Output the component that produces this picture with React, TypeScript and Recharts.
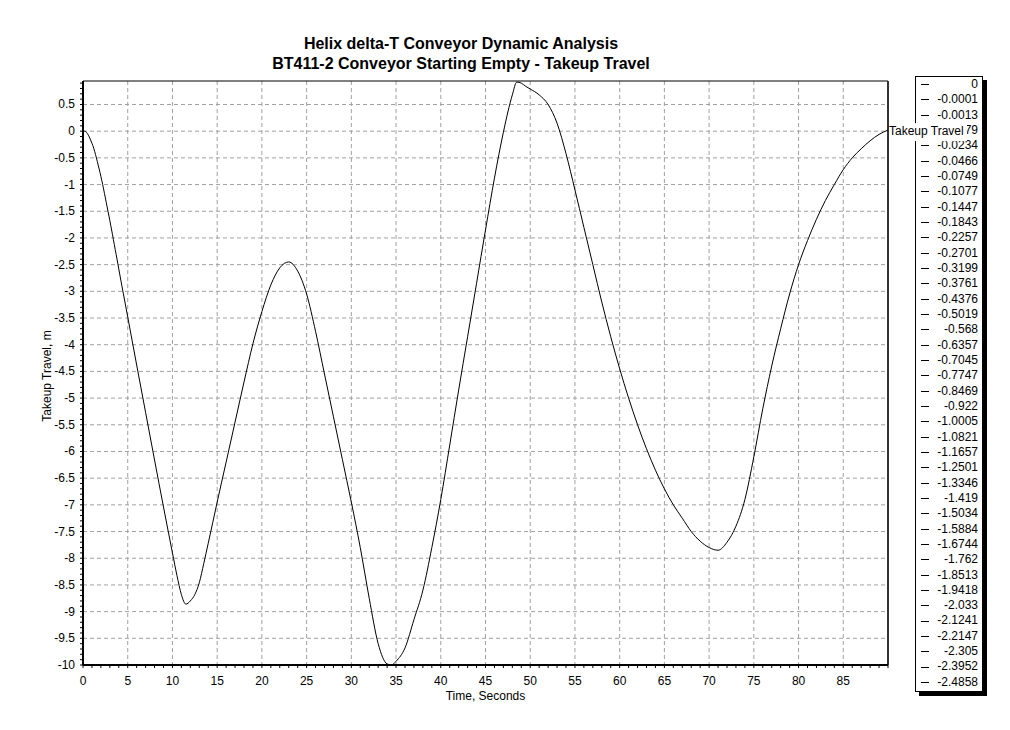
import { LineChart, Line, XAxis, YAxis, CartesianGrid, ReferenceLine, LabelList } from 'recharts'

// time in seconds; first 4 s at the 0.1 s step the legend lists
const seconds = [
  0, 0.1, 0.2, 0.3, 0.4, 0.5, 0.6, 0.7, 0.8, 0.9,
  1, 1.1, 1.2, 1.3, 1.4, 1.5, 1.6, 1.7, 1.8, 1.9,
  2, 2.1, 2.2, 2.3, 2.4, 2.5, 2.6, 2.7, 2.8, 2.9,
  3, 3.1, 3.2, 3.3, 3.4, 3.5, 3.6, 3.7, 3.8, 3.9,
  4, 5, 6, 7, 8, 9, 10, 10.5, 11, 11.5, 12, 12.5, 13, 13.5, 14,
  15, 16, 17, 18, 19, 20, 21, 22, 23, 24, 25, 26, 27, 28, 29,
  30, 31, 32, 33, 34, 34.5, 35, 36, 37, 38, 39, 40, 41, 42, 43, 44,
  45, 46, 47, 48, 48.5, 49, 49.5, 50, 51, 52, 53, 54, 55, 56, 57, 58, 59,
  60, 61, 62, 63, 64, 65, 66, 67, 68, 69, 70, 71, 72, 73, 74,
  75, 76, 77, 78, 79, 80, 81, 82, 83, 84, 85, 86, 87, 88, 89, 90,
]

// takeup travel, m
const takeupTravel = [
  0, -0.0001, -0.0013, -0.0079, -0.0234, -0.0466, -0.0749, -0.1077, -0.1447, -0.1843,
  -0.2257, -0.2701, -0.3199, -0.3761, -0.4376, -0.5019, -0.568, -0.6357, -0.7045, -0.7747,
  -0.8469, -0.922, -1.0005, -1.0821, -1.1657, -1.2501, -1.3346, -1.419, -1.5034, -1.5884,
  -1.6744, -1.762, -1.8513, -1.9418, -2.033, -2.1241, -2.2147, -2.305, -2.3952, -2.4858,
  -2.58, -3.48, -4.38, -5.27, -6.16, -7.04, -7.9, -8.32, -8.68, -8.86, -8.8, -8.68, -8.46, -8.1, -7.72,
  -6.95, -6.2, -5.45, -4.7, -3.98, -3.38, -2.88, -2.56, -2.45, -2.62, -3.05, -3.75, -4.55, -5.35, -6.15,
  -6.95, -7.8, -8.75, -9.6, -9.98, -10, -9.93, -9.68, -9.15, -8.6, -7.8, -6.9, -5.88, -4.85, -3.85, -2.85,
  -1.85, -0.88, -0.02, 0.68, 0.92, 0.9, 0.84, 0.79, 0.68, 0.5, 0.15, -0.42, -1.1, -1.8, -2.5, -3.2, -3.85,
  -4.45, -5.0, -5.5, -5.95, -6.35, -6.7, -7.0, -7.25, -7.5, -7.68, -7.8, -7.85, -7.7, -7.4, -6.9,
  -6.1, -5.2, -4.4, -3.7, -3.05, -2.5, -2.05, -1.65, -1.3, -1.0, -0.72, -0.5, -0.33, -0.18, -0.06, 0.02,
]

const xTicks = [0, 5, 10, 15, 20, 25, 30, 35, 40, 45, 50, 55, 60, 65, 70, 75, 80, 85]
const yTicks = [
  0.5, 0, -0.5, -1, -1.5, -2, -2.5, -3, -3.5, -4, -4.5, -5, -5.5,
  -6, -6.5, -7, -7.5, -8, -8.5, -9, -9.5, -10,
]
// small tick marks every second / every 0.1 m
const xMinorTicks = Array.from({ length: 91 }, (_, i) => i)
const yMinorTicks = Array.from({ length: 110 }, (_, i) => Math.round((-10 + i * 0.1) * 10) / 10)

const X_MAX = 90
const Y_MAX = 0.94

const data = seconds.map((t, i) => ({ t, travel: takeupTravel[i] }))
const legendValues = takeupTravel.slice(0, 40)

const FONT = '"Liberation Sans", Arial, sans-serif'

const isMajor = (list: number[], v: number) => list.some(t => Math.abs(t - v) < 1e-6)

function XTick(props: any) {
  const { x, y, payload } = props
  const v = payload.value
  return (
    <g>
      <line x1={x} x2={x} y1={y} y2={y + 3} stroke='#000' />
      {isMajor(xTicks, v) && (
        <text x={x} y={y + 20} textAnchor='middle' fontSize={12} fill='#000' fontFamily={FONT}>
          {v}
        </text>
      )}
    </g>
  )
}

function YTick(props: any) {
  const { x, y, payload } = props
  const v = payload.value
  return (
    <g>
      <line x1={x - 3} x2={x} y1={y} y2={y} stroke='#000' />
      {isMajor(yTicks, v) && (
        <text x={x - 8} y={y + 4} textAnchor='end' fontSize={12} fill='#000' fontFamily={FONT}>
          {v}
        </text>
      )}
    </g>
  )
}

function EndLabel(props: any) {
  const { x, y, index } = props
  if (index !== data.length - 1) return null
  return (
    <g>
      <rect x={x + 1} y={y - 7} width={78} height={18} fill='#fff' />
      <text x={x + 1} y={y + 5} fontSize={12} fill='#000' fontFamily={FONT}>
        Takeup Travel
      </text>
    </g>
  )
}

function YTitle(props: any) {
  const { viewBox } = props
  const x = 47
  const y = viewBox.y + viewBox.height / 2 + 3
  return (
    <text
      x={x}
      y={y}
      transform={`rotate(-90, ${x}, ${y})`}
      textAnchor='middle'
      dominantBaseline='central'
      fontSize={12}
      fontFamily={FONT}
      fill='#000'
    >
      Takeup Travel, m
    </text>
  )
}

export default function App() {
  return (
    <div
      style={{
        position: 'absolute',
        left: 0,
        top: 0,
        width: 1010,
        height: 730,
        background: '#fff',
        fontFamily: FONT,
      }}
    >
      <div
        style={{
          position: 'absolute',
          left: 0,
          top: 34,
          width: 922,
          textAlign: 'center',
          fontWeight: 'bold',
          fontSize: 16,
          lineHeight: '20px',
        }}
      >
        <div>Helix delta-T Conveyor Dynamic Analysis</div>
        <div>BT411-2 Conveyor Starting Empty - Takeup Travel</div>
      </div>

      <div
        style={{
          position: 'absolute',
          left: 915,
          top: 76,
          width: 66,
          height: 614,
          border: '1px solid #000',
          boxShadow: '4px 4px 0 #000',
          background: '#fff',
          fontSize: 12,
        }}
      >
        {legendValues.map((v, i) => (
          <div
            key={i}
            style={{
              height: 15.33,
              lineHeight: '15.33px',
              display: 'flex',
              alignItems: 'center',
              paddingRight: 4,
            }}
          >
            <div style={{ width: 8, height: 1, background: '#000', marginLeft: 5 }} />
            <div style={{ flex: 1, textAlign: 'right' }}>{v}</div>
          </div>
        ))}
      </div>

      <div style={{ position: 'absolute', left: 0, top: 0 }}>
        <LineChart width={1010} height={730} data={data} margin={{ top: 81, right: 122, bottom: 0, left: 0 }}>
          <CartesianGrid
            stroke='#a0a0a0'
            strokeDasharray='4 3'
            verticalValues={xTicks}
            horizontalValues={yTicks}
          />
          <XAxis
            dataKey='t'
            type='number'
            domain={[0, X_MAX]}
            ticks={xMinorTicks}
            interval={0}
            height={65}
            axisLine={{ stroke: '#000', strokeWidth: 2 }}
            tickLine={false}
            tickSize={0}
            tickMargin={0}
            tick={<XTick />}
            label={{ value: 'Time, Seconds', position: 'insideBottom', offset: 30, fontSize: 12, fill: '#000', fontFamily: FONT }}
          />
          <YAxis
            type='number'
            domain={[-10, Y_MAX]}
            ticks={yMinorTicks}
            interval={0}
            width={83}
            axisLine={{ stroke: '#000', strokeWidth: 2 }}
            tickLine={false}
            tickSize={0}
            tickMargin={0}
            tick={<YTick />}
            label={<YTitle />}
          />
          <ReferenceLine y={Y_MAX} stroke='#000' strokeWidth={1} />
          <ReferenceLine x={X_MAX} stroke='#333' strokeWidth={2} />
          <Line
            dataKey='travel'
            type='monotone'
            stroke='#000'
            strokeWidth={1}
            dot={false}
            isAnimationActive={false}
          >
            <LabelList dataKey='travel' content={<EndLabel />} />
          </Line>
        </LineChart>
      </div>
    </div>
  )
}
